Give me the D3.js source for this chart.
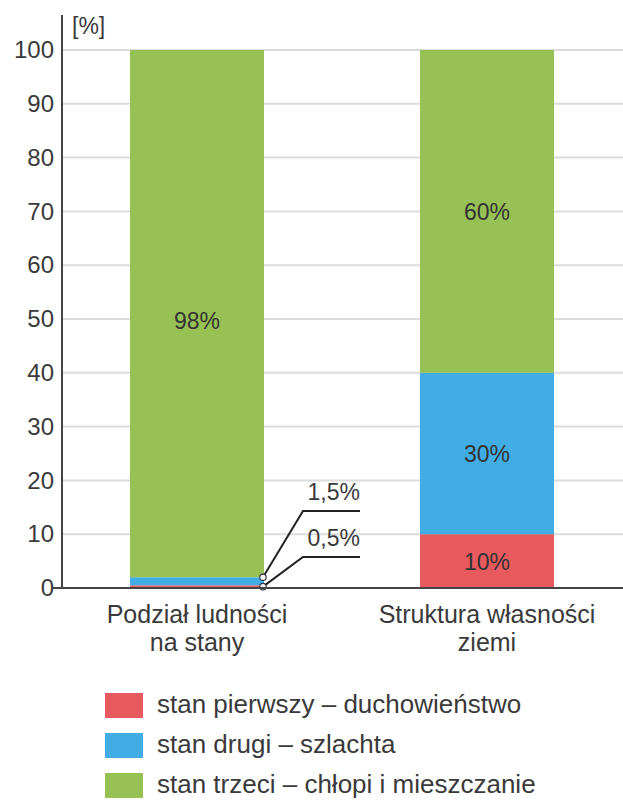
<!DOCTYPE html>
<html>
<head>
<meta charset="utf-8">
<script src="https://cdn.jsdelivr.net/npm/d3@7"></script>
<style>
  html, body { margin: 0; padding: 0; background: #fff; }
  svg { display: block; font-family: "Liberation Sans", Arial, sans-serif; }
</style>
</head>
<body>
<svg id="chart" width="623" height="807"></svg>
<script>
// Categories (two lines each) and series shares in percent
const categories = ["Podział ludności\nna stany", "Struktura własności\nziemi"];
const seriesNames = ["stan pierwszy – duchowieństwo", "stan drugi – szlachta", "stan trzeci – chłopi i mieszczanie"];
const pierwszy = [0.5, 10];
const drugi = [1.5, 30];
const trzeci = [98, 60];
const seriesLabels = [["0,5%", "10%"], ["1,5%", "30%"], ["98%", "60%"]];
const yTicks = [0, 10, 20, 30, 40, 50, 60, 70, 80, 90, 100];
const colors = ["#e85a5e", "#41ade4", "#97c155"];

const textColor = "#3a3a3a";
const svg = d3.select("#chart");
const y = d3.scaleLinear().domain([0, 100]).range([588, 50]);
const x = d3.scaleBand().domain(d3.range(categories.length)).range([62, 622])
  .paddingInner(0.538).paddingOuter(0.2345);

// gridlines
svg.append("g").selectAll("line").data(yTicks.filter(d => d > 0)).join("line")
  .attr("x1", 62).attr("x2", 623)
  .attr("y1", d => y(d)).attr("y2", d => y(d))
  .attr("stroke", "#dcdcdc").attr("stroke-width", 2);

// y axis labels via d3 axis
const yAxis = svg.append("g").attr("transform", "translate(54,0)")
  .call(d3.axisLeft(y).tickValues(yTicks).tickSize(0).tickPadding(0));
yAxis.select(".domain").remove();
yAxis.selectAll("text").attr("font-size", 24).attr("fill", textColor)
  .attr("font-family", "Liberation Sans, Arial, sans-serif");

// stacked bars
const stack = d3.stack().keys([0, 1, 2]).value((d, k) => d[k]);
const rows = categories.map((c, i) => [pierwszy[i], drugi[i], trzeci[i]]);
const stacked = stack(rows);

stacked.forEach((layer, k) => {
  svg.append("g").selectAll("rect").data(layer).join("rect")
    .attr("x", (d, i) => x(i))
    .attr("width", x.bandwidth())
    .attr("y", d => y(d[1]))
    .attr("height", d => y(d[0]) - y(d[1]))
    .attr("fill", colors[k]);
});

// in-bar value labels (thin segments of the first bar get callouts instead)
stacked.forEach((layer, k) => {
  layer.forEach((d, i) => {
    if (d[1] - d[0] < 5) return;
    const mid = (d[0] + d[1]) / 2;
    svg.append("text")
      .attr("x", x(i) + x.bandwidth() / 2)
      .attr("y", y(i === 0 && k === 2 ? mid - 1.2 : mid) + 8.5)
      .attr("text-anchor", "middle").attr("font-size", 23).attr("fill", "#333")
      .text(seriesLabels[k][i]);
  });
});

// leader lines for the thin segments of the first bar
const bx = x(0) + x.bandwidth();
const callouts = [
  { v: pierwszy[0] + drugi[0], ly: 14.3, label: seriesLabels[1][0] },
  { v: pierwszy[0] * 0.5, ly: 5.76, label: seriesLabels[0][0] }
];
callouts.forEach(c => {
  svg.append("path")
    .attr("d", `M${bx - 1},${y(c.v)} L${bx + 39},${y(c.ly)} L${bx + 96},${y(c.ly)}`)
    .attr("fill", "none").attr("stroke", "#222").attr("stroke-width", 2);
  svg.append("circle").attr("cx", bx - 1).attr("cy", y(c.v)).attr("r", 3.2)
    .attr("fill", "#fff").attr("stroke", "#334").attr("stroke-width", 1.2);
  svg.append("text").attr("x", bx + 96).attr("y", y(c.ly) - 11)
    .attr("text-anchor", "end").attr("font-size", 23).attr("fill", textColor)
    .text(c.label);
});

// axis line and baseline
svg.append("line").attr("x1", 62).attr("x2", 62).attr("y1", 15).attr("y2", y(0))
  .attr("stroke", "#444").attr("stroke-width", 2);
svg.append("line").attr("x1", 52).attr("x2", 623).attr("y1", y(0)).attr("y2", y(0))
  .attr("stroke", "#444").attr("stroke-width", 2);

svg.append("text").attr("x", 72).attr("y", 34).attr("font-size", 23).attr("fill", textColor).text("[%]");

// category labels
categories.forEach((c, i) => {
  c.split("\n").forEach((line, j) => {
    svg.append("text")
      .attr("x", x(i) + x.bandwidth() / 2).attr("y", 623 + j * 28)
      .attr("text-anchor", "middle").attr("font-size", 25).attr("fill", textColor)
      .text(line);
  });
});

// legend
const legend = svg.append("g").attr("transform", "translate(105,693)");
seriesNames.forEach((name, k) => {
  const g = legend.append("g").attr("transform", `translate(0,${k * 40})`);
  g.append("rect").attr("width", 38).attr("height", 25).attr("fill", colors[k]);
  g.append("text").attr("x", 52).attr("y", 20).attr("font-size", 26).attr("fill", textColor).text(name);
});
</script>
</body>
</html>
